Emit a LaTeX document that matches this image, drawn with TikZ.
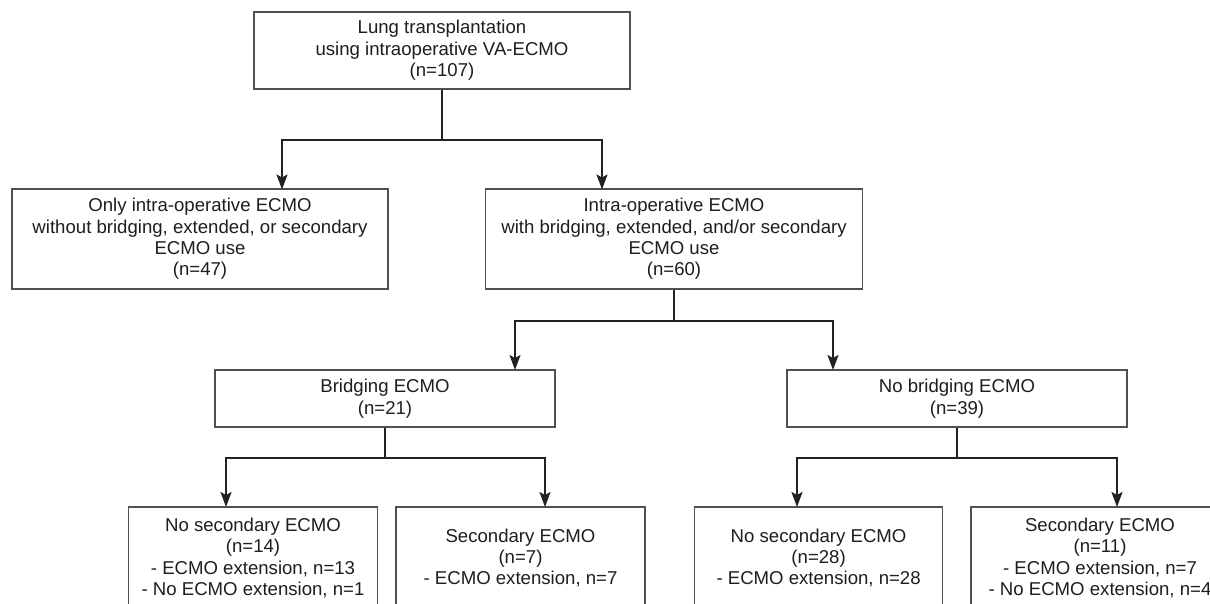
\documentclass[tikz,border=0pt]{standalone}
\usepackage{fontspec}
\setmainfont{Liberation Sans}
\usetikzlibrary{arrows.meta}
\definecolor{boxline}{HTML}{505050}
\definecolor{conn}{HTML}{222222}
\definecolor{txt}{HTML}{1E1E1E}
\begin{document}
\begin{tikzpicture}[x=1pt,y=-1pt,
  box/.style={draw=boxline,line width=1.4pt,rectangle,align=center,inner sep=0pt,
    text=txt,font=\fontsize{18.6}{21.4}\selectfont},
  link/.style={draw=conn,line width=1.8pt},
  arr/.style={link,-{Stealth[length=15pt,width=11pt,inset=3pt]}}]
\useasboundingbox (0,0) rectangle (1210,604);
\clip (0,0) rectangle (1210,604);
\fill[white] (0,0) rectangle (1210,604);
% boxes
\node[box,minimum width=376pt,minimum height=77pt] (top) at (442,50.5)
  {Lung transplantation\\using intraoperative VA-ECMO\\(n=107)};
\node[box,minimum width=376pt,minimum height=100pt] (only) at (200,239)
  {Only intra-operative ECMO\\without bridging, extended, or secondary\\ECMO use\\(n=47)};
\node[box,minimum width=377pt,minimum height=100pt] (with) at (674,239)
  {Intra-operative ECMO\\with bridging, extended, and/or secondary\\ECMO use\\(n=60)};
\node[box,minimum width=340pt,minimum height=57pt] (bridge) at (385,398.5)
  {Bridging ECMO\\(n=21)};
\node[box,minimum width=340pt,minimum height=57pt] (nobridge) at (957,398.5)
  {No bridging ECMO\\(n=39)};
\node[box,minimum width=248.6pt,minimum height=102pt] (b1) at (253,558)
  {No secondary ECMO\\(n=14)\\- ECMO extension, n=13\\- No ECMO extension, n=1};
\node[box,minimum width=249pt,minimum height=102pt] (b2) at (520.5,558)
  {Secondary ECMO\\(n=7)\\- ECMO extension, n=7};
\node[box,minimum width=248pt,minimum height=102pt] (b3) at (818.6,558)
  {No secondary ECMO\\(n=28)\\- ECMO extension, n=28};
\node[box,minimum width=258pt,minimum height=102pt] (b4) at (1100,558)
  {Secondary ECMO\\(n=11)\\- ECMO extension, n=7\\- No ECMO extension, n=4};
% junctions and arrow ends
\coordinate (j1) at (442,140);
\coordinate (t1) at (282,189.5);
\coordinate (t2) at (602,189.5);
\coordinate (j2) at (674,321);
\coordinate (t3) at (515,370);
\coordinate (t4) at (833,370);
\coordinate (j3) at (385,458);
\coordinate (t5) at (226,507);
\coordinate (t6) at (545,507);
\coordinate (j4) at (957,458);
\coordinate (t7) at (797,507);
\coordinate (t8) at (1117,507);
% connectors
\draw[link] (top.south) -- (j1);
\draw[arr] (j1) -| (t1);
\draw[arr] (j1) -| (t2);
\draw[link] (with.south) -- (j2);
\draw[arr] (j2) -| (t3);
\draw[arr] (j2) -| (t4);
\draw[link] (bridge.south) -- (j3);
\draw[arr] (j3) -| (t5);
\draw[arr] (j3) -| (t6);
\draw[link] (nobridge.south) -- (j4);
\draw[arr] (j4) -| (t7);
\draw[arr] (j4) -| (t8);
\end{tikzpicture}
\end{document}
